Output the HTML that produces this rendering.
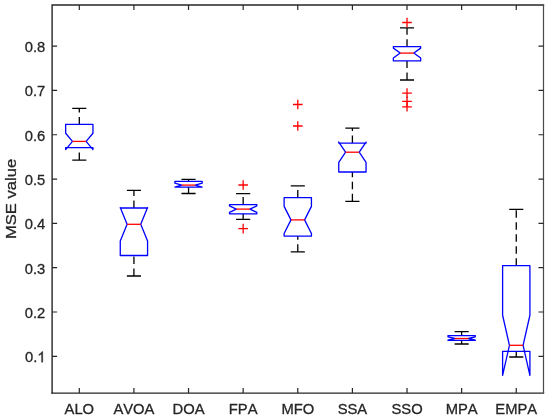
<!DOCTYPE html>
<html><head><meta charset="utf-8"><style>
html,body{margin:0;padding:0;background:#fff;}
svg{display:block;will-change:transform;}
.t{font-family:"Liberation Sans",sans-serif;font-kerning:none;font-size:15.4px;fill:#262626;stroke:#262626;stroke-width:0.3px;}
.l{font-family:"Liberation Sans",sans-serif;font-kerning:none;font-size:16.6px;fill:#262626;stroke:#262626;stroke-width:0.3px;}
</style></head><body>
<svg width="550" height="420" viewBox="0 0 550 420">
<rect x="0" y="0" width="550" height="420" fill="#fff"/>
<path d="M52.1 393.1V5.0H543.5" fill="none" stroke="#262626" stroke-width="1.4" stroke-linecap="square"/>
<path d="M52.1 393.1H543.5" fill="none" stroke="#262626" stroke-width="1.4" stroke-linecap="square"/>
<path d="M543.5 5.0V393.1" fill="none" stroke="#4a4a4a" stroke-width="1.2"/>
<path d="M79.30 393.1V388.1M79.30 5.0V10.0M133.92 393.1V388.1M133.92 5.0V10.0M188.54 393.1V388.1M188.54 5.0V10.0M243.16 393.1V388.1M243.16 5.0V10.0M297.78 393.1V388.1M297.78 5.0V10.0M352.40 393.1V388.1M352.40 5.0V10.0M407.02 393.1V388.1M407.02 5.0V10.0M461.64 393.1V388.1M461.64 5.0V10.0M516.26 393.1V388.1M516.26 5.0V10.0M52.1 356.30H57.1M543.5 356.30H538.5M52.1 311.99H57.1M543.5 311.99H538.5M52.1 267.68H57.1M543.5 267.68H538.5M52.1 223.37H57.1M543.5 223.37H538.5M52.1 179.06H57.1M543.5 179.06H538.5M52.1 134.75H57.1M543.5 134.75H538.5M52.1 90.44H57.1M543.5 90.44H538.5M52.1 46.13H57.1M543.5 46.13H538.5" stroke="#262626" stroke-width="1.2" fill="none"/>
<path d="M79.30 124.40V108.40M79.30 160.10V147.60" stroke="#000" stroke-width="1.3" stroke-dasharray="7.5 4.5" fill="none"/>
<path d="M72.25 108.40H86.35M72.25 160.10H86.35" stroke="#000" stroke-width="1.3" fill="none"/>
<path d="M65.65 147.60L65.65 149.55L72.47 141.40L65.65 133.25L65.65 124.40L92.95 124.40L92.95 133.25L86.12 141.40L92.95 149.55L92.95 147.60L65.65 147.60Z" stroke="#00f" stroke-width="1.3" fill="none" stroke-linejoin="round"/>
<path d="M72.47 141.40H86.12" stroke="#f00" stroke-width="1.3" fill="none"/>
<path d="M133.92 208.00V190.40M133.92 276.00V255.50" stroke="#000" stroke-width="1.3" stroke-dasharray="7.5 4.5" fill="none"/>
<path d="M126.87 190.40H140.97M126.87 276.00H140.97" stroke="#000" stroke-width="1.3" fill="none"/>
<path d="M120.27 255.50L120.27 240.98L127.09 224.30L120.27 207.62L120.27 208.00L147.57 208.00L147.57 207.62L140.74 224.30L147.57 240.98L147.57 255.50L120.27 255.50Z" stroke="#00f" stroke-width="1.3" fill="none" stroke-linejoin="round"/>
<path d="M127.09 224.30H140.74" stroke="#f00" stroke-width="1.3" fill="none"/>
<path d="M188.54 181.45V179.40M188.54 193.50V187.05" stroke="#000" stroke-width="1.3" stroke-dasharray="7.5 4.5" fill="none"/>
<path d="M181.49 179.40H195.59M181.49 193.50H195.59" stroke="#000" stroke-width="1.3" fill="none"/>
<path d="M174.89 187.05L174.89 187.07L181.72 185.10L174.89 183.13L174.89 181.45L202.19 181.45L202.19 183.13L195.36 185.10L202.19 187.07L202.19 187.05L174.89 187.05Z" stroke="#00f" stroke-width="1.3" fill="none" stroke-linejoin="round"/>
<path d="M181.72 185.10H195.36" stroke="#f00" stroke-width="1.3" fill="none"/>
<path d="M243.16 204.60V193.70M243.16 219.30V213.80" stroke="#000" stroke-width="1.3" stroke-dasharray="7.5 4.5" fill="none"/>
<path d="M236.11 193.70H250.21M236.11 219.30H250.21" stroke="#000" stroke-width="1.3" fill="none"/>
<path d="M229.51 213.80L229.51 212.33L236.33 209.10L229.51 205.87L229.51 204.60L256.81 204.60L256.81 205.87L249.98 209.10L256.81 212.33L256.81 213.80L229.51 213.80Z" stroke="#00f" stroke-width="1.3" fill="none" stroke-linejoin="round"/>
<path d="M236.33 209.10H249.98" stroke="#f00" stroke-width="1.3" fill="none"/>
<path d="M238.36 185.00H247.96M243.16 180.20V189.80" stroke="#f00" stroke-width="1.3" fill="none"/>
<path d="M238.36 228.60H247.96M243.16 223.80V233.40" stroke="#f00" stroke-width="1.3" fill="none"/>
<path d="M297.78 197.60V185.90M297.78 251.80V236.10" stroke="#000" stroke-width="1.3" stroke-dasharray="7.5 4.5" fill="none"/>
<path d="M290.73 185.90H304.83M290.73 251.80H304.83" stroke="#000" stroke-width="1.3" fill="none"/>
<path d="M284.13 236.10L284.13 233.42L290.95 219.90L284.13 206.38L284.13 197.60L311.43 197.60L311.43 206.38L304.60 219.90L311.43 233.42L311.43 236.10L284.13 236.10Z" stroke="#00f" stroke-width="1.3" fill="none" stroke-linejoin="round"/>
<path d="M290.95 219.90H304.60" stroke="#f00" stroke-width="1.3" fill="none"/>
<path d="M292.98 104.50H302.58M297.78 99.70V109.30" stroke="#f00" stroke-width="1.3" fill="none"/>
<path d="M292.98 126.00H302.58M297.78 121.20V130.80" stroke="#f00" stroke-width="1.3" fill="none"/>
<path d="M352.40 143.10V128.10M352.40 201.30V172.00" stroke="#000" stroke-width="1.3" stroke-dasharray="7.5 4.5" fill="none"/>
<path d="M345.35 128.10H359.45M345.35 201.30H359.45" stroke="#000" stroke-width="1.3" fill="none"/>
<path d="M338.75 172.00L338.75 162.35L345.57 152.20L338.75 142.05L338.75 143.10L366.05 143.10L366.05 142.05L359.22 152.20L366.05 162.35L366.05 172.00L338.75 172.00Z" stroke="#00f" stroke-width="1.3" fill="none" stroke-linejoin="round"/>
<path d="M345.57 152.20H359.22" stroke="#f00" stroke-width="1.3" fill="none"/>
<path d="M407.02 46.70V27.90M407.02 80.00V60.90" stroke="#000" stroke-width="1.3" stroke-dasharray="7.5 4.5" fill="none"/>
<path d="M399.97 27.90H414.07M399.97 80.00H414.07" stroke="#000" stroke-width="1.3" fill="none"/>
<path d="M393.37 60.90L393.37 58.09L400.19 53.10L393.37 48.11L393.37 46.70L420.67 46.70L420.67 48.11L413.84 53.10L420.67 58.09L420.67 60.90L393.37 60.90Z" stroke="#00f" stroke-width="1.3" fill="none" stroke-linejoin="round"/>
<path d="M400.19 53.10H413.84" stroke="#f00" stroke-width="1.3" fill="none"/>
<path d="M402.22 22.50H411.82M407.02 17.70V27.30" stroke="#f00" stroke-width="1.3" fill="none"/>
<path d="M402.22 93.10H411.82M407.02 88.30V97.90" stroke="#f00" stroke-width="1.3" fill="none"/>
<path d="M402.22 101.40H411.82M407.02 96.60V106.20" stroke="#f00" stroke-width="1.3" fill="none"/>
<path d="M402.22 106.80H411.82M407.02 102.00V111.60" stroke="#f00" stroke-width="1.3" fill="none"/>
<path d="M461.64 335.60V331.60M461.64 344.00V340.40" stroke="#000" stroke-width="1.3" stroke-dasharray="7.5 4.5" fill="none"/>
<path d="M454.59 331.60H468.69M454.59 344.00H468.69" stroke="#000" stroke-width="1.3" fill="none"/>
<path d="M447.99 340.40L447.99 340.19L454.81 338.50L447.99 336.81L447.99 335.60L475.29 335.60L475.29 336.81L468.46 338.50L475.29 340.19L475.29 340.40L447.99 340.40Z" stroke="#00f" stroke-width="1.3" fill="none" stroke-linejoin="round"/>
<path d="M454.81 338.50H468.46" stroke="#f00" stroke-width="1.3" fill="none"/>
<path d="M516.26 265.70V209.30M516.26 357.00V351.30" stroke="#000" stroke-width="1.3" stroke-dasharray="7.5 4.5" fill="none"/>
<path d="M509.21 209.30H523.31M509.21 357.00H523.31" stroke="#000" stroke-width="1.3" fill="none"/>
<path d="M502.61 351.30L502.61 375.35L509.44 345.30L502.61 315.25L502.61 265.70L529.91 265.70L529.91 315.25L523.09 345.30L529.91 375.35L529.91 351.30L502.61 351.30Z" stroke="#00f" stroke-width="1.3" fill="none" stroke-linejoin="round"/>
<path d="M509.44 345.30H523.09" stroke="#f00" stroke-width="1.3" fill="none"/>
<text transform="translate(79.30 414.3) scale(0.96 1)" text-anchor="middle" class="t">ALO</text>
<text transform="translate(133.92 414.3) scale(0.96 1)" text-anchor="middle" class="t">AVOA</text>
<text transform="translate(188.54 414.3) scale(0.96 1)" text-anchor="middle" class="t">DOA</text>
<text transform="translate(243.16 414.3) scale(0.96 1)" text-anchor="middle" class="t">FPA</text>
<text transform="translate(297.78 414.3) scale(0.96 1)" text-anchor="middle" class="t">MFO</text>
<text transform="translate(352.40 414.3) scale(0.96 1)" text-anchor="middle" class="t">SSA</text>
<text transform="translate(407.02 414.3) scale(0.96 1)" text-anchor="middle" class="t">SSO</text>
<text transform="translate(461.64 414.3) scale(0.96 1)" text-anchor="middle" class="t">MPA</text>
<text transform="translate(516.26 414.3) scale(0.96 1)" text-anchor="middle" class="t">EMPA</text>
<text transform="translate(37.28 362.20) scale(0.96 1)" text-anchor="end" class="t">0.</text>
<path transform="translate(37.28 362.20) scale(0.00722 -0.00752)" d="M763 0L583 0L583 1098Q518 1039 412 979Q307 920 223 890L223 1057Q374 1125 487 1221Q600 1318 647 1409L763 1409Z" fill="#262626" stroke="#262626" stroke-width="41.6"/>
<text transform="translate(45.2 317.89) scale(0.96 1)" text-anchor="end" class="t">0.2</text>
<text transform="translate(45.2 273.58) scale(0.96 1)" text-anchor="end" class="t">0.3</text>
<text transform="translate(45.2 229.27) scale(0.96 1)" text-anchor="end" class="t">0.4</text>
<text transform="translate(45.2 184.96) scale(0.96 1)" text-anchor="end" class="t">0.5</text>
<text transform="translate(45.2 140.65) scale(0.96 1)" text-anchor="end" class="t">0.6</text>
<text transform="translate(45.2 96.34) scale(0.96 1)" text-anchor="end" class="t">0.7</text>
<text transform="translate(45.2 52.03) scale(0.96 1)" text-anchor="end" class="t">0.8</text>
<text transform="translate(15.9 198.9) rotate(-90) scale(1 0.89)" text-anchor="middle" class="l">MSE value</text>
</svg>
</body></html>
